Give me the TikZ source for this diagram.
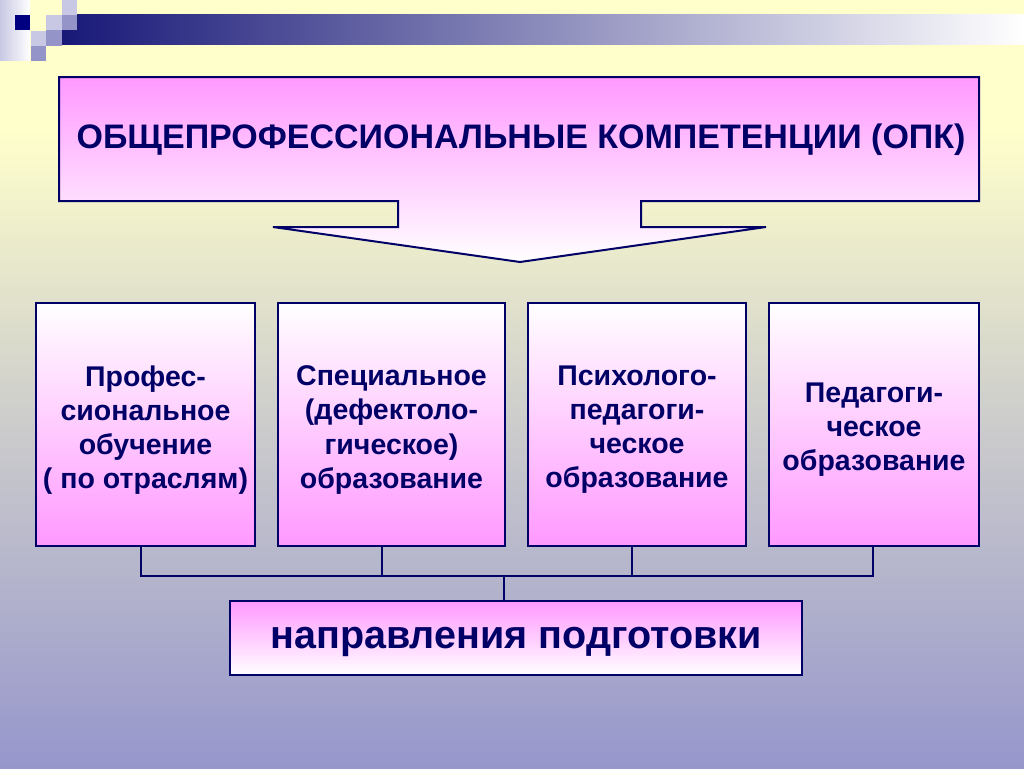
\documentclass[tikz,border=0pt]{standalone}
\usepackage{fontspec}
\setmainfont{Liberation Sans}
\usetikzlibrary{calc}
\definecolor{navy}{RGB}{0,0,102}
\definecolor{pinkc}{RGB}{255,153,255}
\definecolor{bgtop}{RGB}{255,255,204}
\definecolor{bgmid}{RGB}{208,208,204}
\definecolor{bgbot}{RGB}{150,150,204}
\definecolor{barA}{RGB}{24,24,120}
\definecolor{barM}{RGB}{165,165,200}
\definecolor{lavL}{RGB}{200,200,228}
\definecolor{lavM}{RGB}{148,148,200}
\definecolor{sqnavy}{RGB}{0,0,128}
\tikzset{
  boxst/.style={draw=navy, line width=2.5pt, top color=white, bottom color=pinkc,
    minimum height=243pt, inner sep=0pt},
  boxtxt/.style={inner sep=0pt, text=navy, align=center,
    font=\bfseries\fontsize{28.5}{34}\selectfont},
  conn/.style={draw=navy, line width=2pt},
}
\begin{document}
\begin{tikzpicture}[x=1pt,y=-1pt]
\useasboundingbox (0,0) rectangle (1024,768);
% background
\fill[bgtop] (0,0) rectangle (1024,130);
\shade[top color=bgtop, bottom color=bgmid] (0,129.5) rectangle (1024,400);
\shade[top color=bgmid, bottom color=bgbot] (0,399.5) rectangle (1024,768);
% header decoration
\shade[left color=barA, middle color=barM, right color=white] (62,15) rectangle (1024,45);
\shade[left color=lavL, right color=white] (0,0) rectangle (30,60);
\fill[sqnavy] (15,15) rectangle (30,30);
\fill[lavL] (31,31) rectangle (46,46);
\fill[lavM] (31,46) rectangle (46,61);
\fill[lavL] (46,15) rectangle (62,30);
\fill[lavM] (46,30) rectangle (62,46);
\fill[lavL] (62,0) rectangle (77,15);
\fill[lavM] (62,15) rectangle (77,30);
% callout
\draw[navy, line width=2pt, top color=pinkc, bottom color=white]
  (59,77) -- (979,77) -- (979,201) -- (641,201) -- (641,227) -- (766,227)
  -- (520,262) -- (273,227) -- (398,227) -- (398,201) -- (59,201) -- cycle;
\node[text=navy, inner sep=0pt, text height=24.3pt, text depth=0pt,
  font=\bfseries\fontsize{34}{40}\selectfont] (opk) at (521,136)
  {ОБЩЕПРОФЕССИОНАЛЬНЫЕ КОМПЕТЕНЦИИ (ОПК)};
% four boxes
\node[boxst, minimum width=219pt] (b1) at (145.5,424.5) {};
\node[boxst, minimum width=227pt] (b2) at (391.5,424.5) {};
\node[boxst, minimum width=218pt] (b3) at (637,424.5) {};
\node[boxst, minimum width=210pt] (b4) at (874,424.5) {};
\node[boxtxt] (t1) at ([yshift=-5.5pt]b1.center)
  {Профес-\\сиональное\\обучение\\( по отраслям)};
\node[boxtxt] (t2) at ([yshift=-5.5pt]b2.center)
  {Специальное\\(дефектоло-\\гическое)\\образование};
\node[boxtxt] (t3) at ([yshift=-5.5pt]b3.center)
  {Психолого-\\педагоги-\\ческое\\образование};
\node[boxtxt] (t4) at ([yshift=-5.5pt]b4.center)
  {Педагоги-\\ческое\\образование};
% bottom box
\node[draw=navy, line width=1.2pt, top color=pinkc, bottom color=white,
  minimum width=572pt, minimum height=74pt, inner sep=0pt] (bot) at (516,638) {};
\node[text=navy, inner sep=0pt, text height=20pt, text depth=0pt,
  font=\bfseries\fontsize{39.5}{44}\selectfont] (botx) at (bot.center)
  {направления подготовки};
% connectors
\coordinate (hl) at (0,576);
\coordinate (j) at (504,576);
\draw[conn] ([xshift=-4.5pt]b1.south) |- ([xshift=-1pt]b4.south |- hl) -- ([xshift=-1pt]b4.south);
\draw[conn] ([xshift=-9.5pt]b2.south) -- ([xshift=-9.5pt]b2.south |- hl);
\draw[conn] ([xshift=-5pt]b3.south) -- ([xshift=-5pt]b3.south |- hl);
\draw[conn] (j) -- (bot.north -| j);
\end{tikzpicture}
\end{document}
